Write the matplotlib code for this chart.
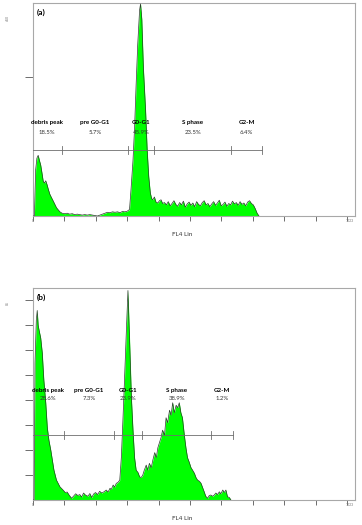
"""
Cell cycle histograms (FL4 Lin) for two samples, with the marker gates
drawn over each histogram.
"""

import matplotlib
matplotlib.use("Agg")
import matplotlib.pyplot as plt

plt.rcParams['font.family'] = ['Lato', 'DejaVu Sans']

# -----------------------------
# Data

# Panel (a): channel positions and counts
chan_a = [0, 6, 10, 14, 18, 22, 26, 30, 34, 38,
          42, 46, 50, 55, 60, 66, 71, 76, 82, 87,
          94, 102, 110, 118, 126, 134, 142, 150, 158, 166,
          174, 182, 190, 198, 206, 214, 222, 230, 238, 246,
          254, 262, 270, 278, 286, 292, 300, 308, 313, 319,
          324, 329, 334, 340, 343, 347, 352, 359, 364, 369,
          374, 378, 382, 387, 392, 398, 403, 408, 413, 419,
          425, 431, 437, 443, 449, 455, 461, 467, 473, 479,
          485, 491, 497, 503, 509, 515, 521, 527, 533, 539,
          545, 551, 557, 563, 569, 575, 581, 587, 593, 599,
          605, 611, 617, 623, 629, 635, 641, 647, 653, 659,
          665, 671, 677, 683, 689, 695, 701, 707, 713, 719]
counts_a = [0, 0, 100, 125, 131, 120, 110, 93, 75, 71,
            76, 68, 58, 47, 40, 32, 25, 18, 13, 9,
            6, 5, 6, 4, 5, 3, 4, 3, 2, 3,
            2, 3, 2, 1, 0, 2, 4, 6, 8, 7,
            9, 8, 9, 7, 10, 9, 10, 14, 60, 120,
            190, 285, 370, 445, 458, 425, 320, 228, 143, 85,
            50, 38, 35, 41, 30, 28, 33, 35, 27, 29,
            24, 31, 22, 27, 33, 25, 21, 29, 24, 32,
            19, 26, 30, 23, 28, 20, 31, 25, 22, 29,
            33, 24, 27, 20, 26, 31, 23, 28, 34, 22,
            25, 30, 21, 27, 24, 32, 26, 29, 23, 31,
            25, 28, 22, 30, 33, 27, 24, 16, 6, 0]

# Panel (b): channel positions and counts
chan_b = [0, 5, 8, 12, 15, 18, 21, 26, 31, 36,
          42, 47, 52, 58, 63, 68, 76, 87, 97, 104,
          110, 116, 124, 130, 137, 144, 150, 156, 162, 168,
          176, 182, 188, 194, 200, 207, 213, 220, 227, 234,
          240, 246, 250, 256, 261, 266, 271, 277, 282, 287,
          292, 298, 303, 308, 314, 319, 324, 329, 335, 340,
          345, 350, 355, 361, 366, 371, 377, 382, 388, 393,
          398, 403, 408, 413, 419, 424, 429, 435, 440, 445,
          450, 456, 461, 466, 471, 476, 482, 487, 492, 498,
          503, 508, 514, 519, 524, 530, 535, 540, 545, 550,
          556, 561, 566, 572, 577, 582, 588, 593, 598, 604,
          609, 614, 619, 625, 630]
counts_b = [0, 0, 55, 72, 76, 70, 68, 65, 59, 48,
            39, 29, 24, 20, 16, 12, 8, 5.3, 4, 3,
            3.2, 2, 0.7, 1.5, 2.5, 1.8, 2.2, 1.2, 2.8, 2,
            1.5, 2.6, 1, 2.4, 3, 2.2, 3.5, 2.8, 3.3, 4,
            3.2, 4.7, 4.2, 6, 5.2, 6.7, 7, 8, 17, 32,
            48, 68, 84, 65, 41, 28, 17, 12, 11, 9.3,
            9, 10, 12, 14, 12, 14.7, 13, 16, 19, 17,
            21, 23, 25, 28, 26, 33, 31, 36, 34, 39,
            35, 38, 37, 39, 35, 33, 26, 21, 17, 15,
            13, 12, 10.7, 9, 8, 7.5, 6.7, 5, 3.3, 1.5,
            0.7, 1.8, 2, 1.5, 2, 2.8, 2.2, 3.3, 2.5, 4,
            3, 4, 1.3, 1, 0]

# Marker gates (region bounds in channels) and their labels
gate_names = ['debris peak', 'pre G0-G1', 'G0-G1', 'S phase', 'G2-M']
bounds_a = [0, 94, 302, 386, 631, 729]
pct_a = ['18.5%', '5.7%', '45.9%', '23.5%', '6.4%']
bounds_b = [0, 99, 260, 347, 568, 636]
pct_b = ['28.6%', '7.3%', '23.9%', '38.9%', '1.2%']

# -----------------------------

GREEN = '#00ff00'
EDGE = '#2b3b2b'
SPINE = '#a8a8a8'
GATE = '#6e6e6e'


def draw_panel(ax, chan, counts, ymax, yticks, bounds, pcts, gate_y, name_y, pct_y,
               tag, ytop_label):
    """Draws one FCS histogram with its gate bar and labels"""

    ax.fill_between(chan, counts, 0, color=GREEN, lw=0, zorder=2)
    ax.plot(chan, counts, color=EDGE, lw=0.5, zorder=3)

    ax.set_xlim(0, 1024)
    ax.set_ylim(0, ymax)

    for s in ax.spines.values():
        s.set_color(SPINE)
        s.set_linewidth(0.8)

    ax.set_xticks(range(0, 1024, 100))
    ax.set_yticks(yticks)
    ax.tick_params(axis='x', length=3.5, width=0.6, color='#555555', labelbottom=False)
    ax.tick_params(axis='y', length=5.5, width=0.6, color='#555555', labelleft=False)

    # tiny axis range labels, like the instrument export
    ax.text(0, -0.012, '0', transform=ax.transAxes, fontsize=2.5, color='#777777',
            ha='center', va='top')
    ax.text(0.985, -0.012, '1023', transform=ax.transAxes, fontsize=2.5, color='#777777',
            ha='center', va='top')
    ax.text(-0.075, 0.93, ytop_label, transform=ax.transAxes, fontsize=2.5,
            color='#777777', ha='center', va='center', rotation=90)

    ax.text(0.012, 0.975, tag, transform=ax.transAxes, fontsize=6, fontweight='bold',
            ha='left', va='top')

    # gate bar
    tick_h = ymax * 0.019
    ax.plot([bounds[0], bounds[-1]], [gate_y, gate_y], color=GATE, lw=0.6, zorder=4)
    for b in bounds[1:]:
        ax.plot([b, b], [gate_y - tick_h, gate_y + tick_h], color=GATE, lw=0.6, zorder=4)

    for i, name in enumerate(gate_names):
        xc = (bounds[i] + bounds[i + 1]) / 2
        ax.text(xc, name_y, name, fontsize=4.5, fontweight='bold',
                ha='center', va='center', zorder=5)
        ax.text(xc, pct_y, pcts[i], fontsize=4.3, color='#333333',
                ha='center', va='center', zorder=5)


fig = plt.figure(figsize=(3.62, 5.25), dpi=100)

ax_a = fig.add_axes([0.0898, 0.5886, 0.891, 0.4057])
draw_panel(ax_a, chan_a, counts_a, 460, [300], bounds_a, pct_a, 142, 201, 181,
           '(a)', '460')

ax_b = fig.add_axes([0.0898, 0.0476, 0.891, 0.4038])
draw_panel(ax_b, chan_b, counts_b, 85, range(10, 90, 10), bounds_b, pct_b, 26, 44, 40.8,
           '(b)', '85')

fig.text(182 / 362, 1 - 234 / 525, 'FL4 Lin', fontsize=4.5, color='#333333',
         ha='center', va='center')
fig.text(182 / 362, 1 - 518 / 525, 'FL4 Lin', fontsize=4.5, color='#333333',
         ha='center', va='center')

plt.savefig('out.png', dpi=100)
